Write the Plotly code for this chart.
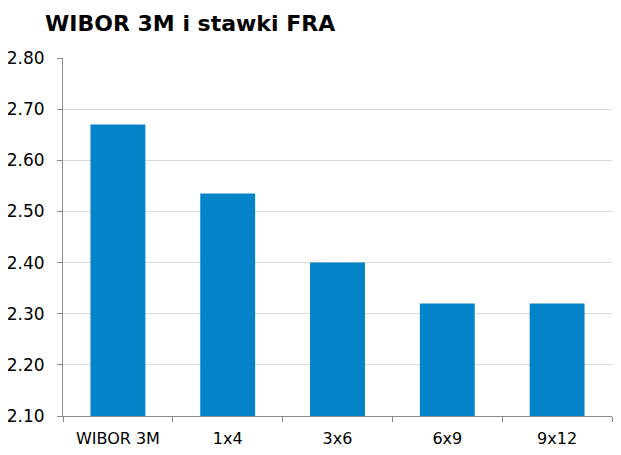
import plotly.graph_objects as go

categories = ["WIBOR 3M", "1x4", "3x6", "6x9", "9x12"]
values = [2.67, 2.535, 2.40, 2.32, 2.32]
y_ticks = [2.10, 2.20, 2.30, 2.40, 2.50, 2.60, 2.70, 2.80]
title_text = "WIBOR 3M i stawki FRA"

fig = go.Figure(go.Bar(x=categories, y=values, marker=dict(color="#0483C8", line=dict(width=0)), width=0.5))

fig.update_layout(
    width=621, height=455,
    margin=dict(l=55, r=17, t=50, b=47, autoexpand=False),
    paper_bgcolor="white", plot_bgcolor="white",
    font=dict(family="DejaVu Sans", size=16, color="black"),
    title=dict(text="<b>" + title_text + "</b>", x=37/621, xanchor="left", y=1-15/455, yanchor="middle",
               font=dict(family="DejaVu Sans", size=22, color="black")),
    showlegend=False,
)
fig.update_xaxes(type="category", tickson="boundaries", ticks="outside", ticklen=5, tickcolor="#898989",
                 showline=True, linecolor="#898989", linewidth=1, showgrid=False,
                 tickfont=dict(size=16), ticklabelstandoff=8, automargin=False)
fig.update_yaxes(range=[2.10, 2.80], tickvals=y_ticks, ticktext=[f"{v:.2f}" for v in y_ticks],
                 ticks="outside", ticklen=5, tickcolor="#898989", showline=True, linecolor="#898989",
                 linewidth=1, showgrid=True, gridcolor="#D9D9D9", gridwidth=1, zeroline=False,
                 tickfont=dict(size=17), ticklabelstandoff=9, automargin=False)

fig.write_html("out.html")
